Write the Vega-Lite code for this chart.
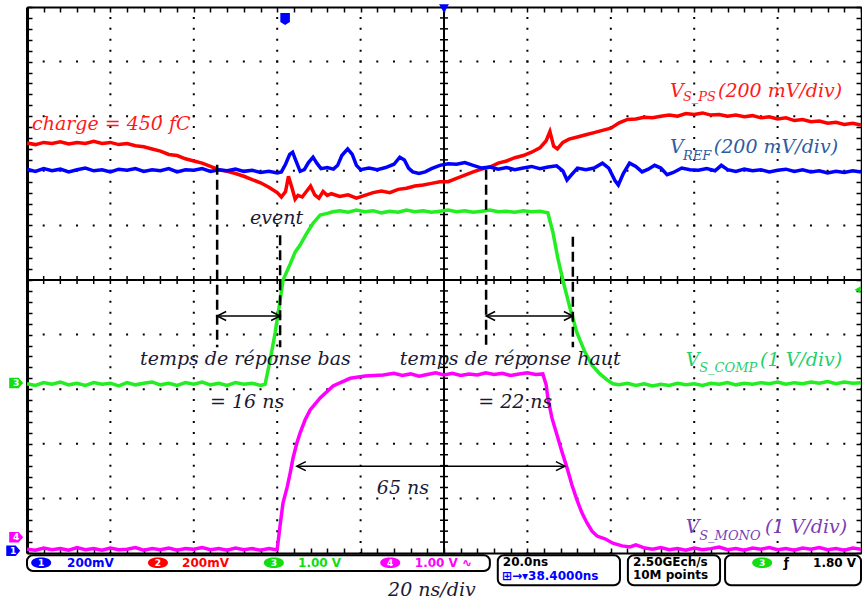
{
"$schema": "https://vega.github.io/schema/vega-lite/v6.json",
"width": 834, "height": 546,
"autosize": {"type": "none"},
"padding": {"left": 27, "top": 7, "right": 1, "bottom": 49},
"background": "white",
"config": {"view": {"stroke": null}},
"resolve": {"axis": {"x": "independent", "y": "independent"}, "scale": {"color": "independent", "shape": "independent"}},
"datasets": {
"gx": [{"t":-80},{"t":-60},{"t":-40},{"t":-20},{"t":20},{"t":40},{"t":60},{"t":80}],
"gy": [{"v":-4},{"v":-3},{"v":-2},{"v":-1},{"v":1},{"v":2},{"v":3},{"v":4}],
"cx": [{"t":-96},{"t":-92},{"t":-88},{"t":-84},{"t":-80},{"t":-76},{"t":-72},{"t":-68},{"t":-64},{"t":-60},{"t":-56},{"t":-52},{"t":-48},{"t":-44},{"t":-40},{"t":-36},{"t":-32},{"t":-28},{"t":-24},{"t":-20},{"t":-16},{"t":-12},{"t":-8},{"t":-4},{"t":4},{"t":8},{"t":12},{"t":16},{"t":20},{"t":24},{"t":28},{"t":32},{"t":36},{"t":40},{"t":44},{"t":48},{"t":52},{"t":56},{"t":60},{"t":64},{"t":68},{"t":72},{"t":76},{"t":80},{"t":84},{"t":88},{"t":92},{"t":96}],
"cy": [{"v":-4.8},{"v":-4.6},{"v":-4.4},{"v":-4.2},{"v":-4},{"v":-3.8},{"v":-3.6},{"v":-3.4},{"v":-3.2},{"v":-3},{"v":-2.8},{"v":-2.6},{"v":-2.4},{"v":-2.2},{"v":-2},{"v":-1.8},{"v":-1.6},{"v":-1.4},{"v":-1.2},{"v":-1},{"v":-0.8},{"v":-0.6},{"v":-0.4},{"v":-0.2},{"v":0.2},{"v":0.4},{"v":0.6},{"v":0.8},{"v":1},{"v":1.2},{"v":1.4},{"v":1.6},{"v":1.8},{"v":2},{"v":2.2},{"v":2.4},{"v":2.6},{"v":2.8},{"v":3},{"v":3.2},{"v":3.4},{"v":3.6},{"v":3.8},{"v":4},{"v":4.2},{"v":4.4},{"v":4.6},{"v":4.8}],
"ref": [{"t":-100,"v":2.03},{"t":-98,"v":1.99},{"t":-96,"v":2.04},{"t":-94,"v":2.00},{"t":-92,"v":2.03},{"t":-90,"v":1.98},{"t":-88,"v":2.02},{"t":-86,"v":2.05},{"t":-84,"v":2.00},{"t":-82,"v":2.02},{"t":-80,"v":1.98},{"t":-78,"v":2.03},{"t":-76,"v":2.01},{"t":-74,"v":2.04},{"t":-72,"v":1.99},{"t":-70,"v":2.02},{"t":-68,"v":2.00},{"t":-66,"v":2.04},{"t":-64,"v":1.98},{"t":-62,"v":2.02},{"t":-60,"v":2.01},{"t":-58,"v":2.04},{"t":-56,"v":1.99},{"t":-54,"v":2.02},{"t":-52,"v":2.00},{"t":-50,"v":2.03},{"t":-48,"v":1.99},{"t":-46,"v":2.01},{"t":-44,"v":1.97},{"t":-42,"v":1.99},{"t":-40,"v":1.96},{"t":-39,"v":1.98},{"t":-38,"v":2.12},{"t":-37,"v":2.30},{"t":-36.3,"v":2.34},{"t":-35.5,"v":2.18},{"t":-34.5,"v":1.99},{"t":-33.5,"v":2.02},{"t":-32.5,"v":2.15},{"t":-31.4,"v":2.25},{"t":-30.5,"v":2.14},{"t":-29.5,"v":2.04},{"t":-28,"v":2.06},{"t":-26.5,"v":2.03},{"t":-25.5,"v":2.10},{"t":-24.5,"v":2.28},{"t":-23.1,"v":2.40},{"t":-22,"v":2.30},{"t":-21,"v":2.10},{"t":-20,"v":2.02},{"t":-18,"v":2.05},{"t":-16,"v":2.02},{"t":-14,"v":2.06},{"t":-12,"v":2.12},{"t":-10.6,"v":2.25},{"t":-9.5,"v":2.20},{"t":-8.5,"v":2.05},{"t":-7.5,"v":1.98},{"t":-6,"v":1.95},{"t":-4.5,"v":1.98},{"t":-3,"v":2.04},{"t":-1,"v":2.10},{"t":1,"v":2.13},{"t":3,"v":2.12},{"t":5,"v":2.15},{"t":7,"v":2.10},{"t":9,"v":2.05},{"t":11,"v":2.07},{"t":13,"v":2.03},{"t":15,"v":2.06},{"t":17,"v":2.02},{"t":19,"v":2.05},{"t":21,"v":2.08},{"t":23,"v":2.04},{"t":25,"v":2.07},{"t":27,"v":2.09},{"t":28.5,"v":2.00},{"t":29.5,"v":1.83},{"t":30.5,"v":1.92},{"t":32,"v":2.05},{"t":34,"v":2.02},{"t":36,"v":2.05},{"t":38,"v":2.14},{"t":39.5,"v":2.05},{"t":41,"v":1.82},{"t":41.8,"v":1.74},{"t":43,"v":1.95},{"t":44.5,"v":2.14},{"t":46,"v":2.08},{"t":47.5,"v":1.98},{"t":49,"v":2.03},{"t":50.5,"v":2.10},{"t":52,"v":2.05},{"t":53.5,"v":1.93},{"t":55,"v":1.97},{"t":57,"v":2.05},{"t":59,"v":2.02},{"t":61,"v":2.01},{"t":63,"v":2.04},{"t":65,"v":2.00},{"t":66.5,"v":2.10},{"t":68,"v":2.02},{"t":70,"v":1.99},{"t":72,"v":2.03},{"t":74,"v":2.00},{"t":76,"v":2.02},{"t":78,"v":1.98},{"t":80,"v":2.01},{"t":82,"v":2.03},{"t":84,"v":1.99},{"t":86,"v":2.02},{"t":88,"v":1.98},{"t":90,"v":2.00},{"t":92,"v":1.96},{"t":94,"v":1.99},{"t":96,"v":1.97},{"t":98,"v":2.00},{"t":100,"v":1.98}],
"ps": [{"t":-100,"v":2.51},{"t":-98,"v":2.48},{"t":-96,"v":2.52},{"t":-94,"v":2.50},{"t":-92,"v":2.53},{"t":-90,"v":2.49},{"t":-88,"v":2.52},{"t":-86,"v":2.50},{"t":-84,"v":2.54},{"t":-82,"v":2.50},{"t":-80,"v":2.52},{"t":-78,"v":2.48},{"t":-76,"v":2.50},{"t":-74,"v":2.46},{"t":-72,"v":2.44},{"t":-70,"v":2.40},{"t":-68,"v":2.36},{"t":-66,"v":2.30},{"t":-64,"v":2.28},{"t":-62,"v":2.22},{"t":-60,"v":2.18},{"t":-58,"v":2.14},{"t":-56,"v":2.08},{"t":-54,"v":2.02},{"t":-52,"v":1.99},{"t":-50,"v":1.95},{"t":-48,"v":1.90},{"t":-46,"v":1.84},{"t":-44,"v":1.78},{"t":-42,"v":1.70},{"t":-40,"v":1.60},{"t":-39,"v":1.52},{"t":-38,"v":1.62},{"t":-37.3,"v":1.90},{"t":-36.5,"v":1.70},{"t":-35.7,"v":1.48},{"t":-35,"v":1.55},{"t":-34,"v":1.52},{"t":-33,"v":1.62},{"t":-32,"v":1.72},{"t":-31,"v":1.56},{"t":-30,"v":1.50},{"t":-29,"v":1.62},{"t":-28,"v":1.55},{"t":-27,"v":1.58},{"t":-25,"v":1.53},{"t":-23,"v":1.56},{"t":-21,"v":1.50},{"t":-19,"v":1.55},{"t":-17,"v":1.60},{"t":-15,"v":1.63},{"t":-13,"v":1.60},{"t":-11,"v":1.66},{"t":-9,"v":1.68},{"t":-7,"v":1.72},{"t":-5,"v":1.74},{"t":-3,"v":1.77},{"t":-1,"v":1.80},{"t":1,"v":1.80},{"t":3,"v":1.86},{"t":5,"v":1.92},{"t":7,"v":1.98},{"t":9,"v":2.03},{"t":11,"v":2.07},{"t":13,"v":2.14},{"t":15,"v":2.18},{"t":17,"v":2.24},{"t":19,"v":2.28},{"t":21,"v":2.34},{"t":23,"v":2.42},{"t":24.5,"v":2.55},{"t":25.4,"v":2.72},{"t":26.3,"v":2.45},{"t":27.2,"v":2.40},{"t":28.5,"v":2.52},{"t":30,"v":2.58},{"t":32,"v":2.62},{"t":34,"v":2.66},{"t":36,"v":2.70},{"t":38,"v":2.74},{"t":40,"v":2.78},{"t":42,"v":2.88},{"t":44,"v":2.94},{"t":46,"v":2.95},{"t":48,"v":2.98},{"t":50,"v":2.97},{"t":52,"v":3.00},{"t":54,"v":3.02},{"t":56,"v":3.00},{"t":58,"v":3.05},{"t":60,"v":3.03},{"t":62,"v":3.06},{"t":64,"v":3.02},{"t":66,"v":3.03},{"t":68,"v":3.00},{"t":70,"v":3.02},{"t":72,"v":2.99},{"t":74,"v":3.01},{"t":76,"v":2.97},{"t":78,"v":2.99},{"t":80,"v":2.95},{"t":82,"v":2.97},{"t":84,"v":2.92},{"t":86,"v":2.94},{"t":88,"v":2.90},{"t":90,"v":2.91},{"t":92,"v":2.87},{"t":94,"v":2.89},{"t":96,"v":2.85},{"t":98,"v":2.87},{"t":100,"v":2.84}],
"comp": [{"t":-100,"v":-1.90},{"t":-98,"v":-1.93},{"t":-96,"v":-1.88},{"t":-94,"v":-1.91},{"t":-92,"v":-1.87},{"t":-90,"v":-1.92},{"t":-88,"v":-1.89},{"t":-86,"v":-1.93},{"t":-84,"v":-1.88},{"t":-82,"v":-1.91},{"t":-80,"v":-1.89},{"t":-78,"v":-1.94},{"t":-76,"v":-1.88},{"t":-74,"v":-1.92},{"t":-72,"v":-1.89},{"t":-70,"v":-1.87},{"t":-68,"v":-1.92},{"t":-66,"v":-1.89},{"t":-64,"v":-1.93},{"t":-62,"v":-1.88},{"t":-60,"v":-1.91},{"t":-58,"v":-1.87},{"t":-56,"v":-1.92},{"t":-54,"v":-1.89},{"t":-52,"v":-1.93},{"t":-50,"v":-1.88},{"t":-48,"v":-1.91},{"t":-46,"v":-1.89},{"t":-44,"v":-1.93},{"t":-42.9,"v":-1.91},{"t":-41.7,"v":-1.47},{"t":-40.5,"v":-0.97},{"t":-39.3,"v":-0.37},{"t":-38.6,"v":0.0},{"t":-36.9,"v":0.29},{"t":-35.7,"v":0.51},{"t":-34.5,"v":0.64},{"t":-32.9,"v":0.86},{"t":-31.4,"v":1.04},{"t":-29.7,"v":1.19},{"t":-28,"v":1.22},{"t":-26.6,"v":1.25},{"t":-25,"v":1.27},{"t":-23,"v":1.24},{"t":-21,"v":1.28},{"t":-19,"v":1.25},{"t":-17,"v":1.27},{"t":-15,"v":1.23},{"t":-13,"v":1.26},{"t":-11,"v":1.24},{"t":-9,"v":1.28},{"t":-7,"v":1.25},{"t":-5,"v":1.27},{"t":-3,"v":1.24},{"t":-1,"v":1.26},{"t":1,"v":1.28},{"t":3,"v":1.25},{"t":5,"v":1.27},{"t":7,"v":1.24},{"t":9,"v":1.26},{"t":11,"v":1.28},{"t":13,"v":1.25},{"t":15,"v":1.26},{"t":17,"v":1.24},{"t":19,"v":1.27},{"t":21,"v":1.25},{"t":23,"v":1.26},{"t":24.9,"v":1.23},{"t":26.1,"v":0.88},{"t":27.3,"v":0.40},{"t":28.5,"v":0.0},{"t":30.2,"v":-0.51},{"t":31.9,"v":-0.97},{"t":33.8,"v":-1.32},{"t":35.5,"v":-1.56},{"t":37.4,"v":-1.72},{"t":39.1,"v":-1.83},{"t":40.5,"v":-1.90},{"t":42,"v":-1.92},{"t":44,"v":-1.89},{"t":46,"v":-1.93},{"t":48,"v":-1.90},{"t":50,"v":-1.94},{"t":52,"v":-1.91},{"t":54,"v":-1.93},{"t":56,"v":-1.89},{"t":58,"v":-1.92},{"t":60,"v":-1.90},{"t":62,"v":-1.93},{"t":64,"v":-1.89},{"t":66,"v":-1.91},{"t":68,"v":-1.88},{"t":70,"v":-1.92},{"t":72,"v":-1.89},{"t":74,"v":-1.91},{"t":76,"v":-1.88},{"t":78,"v":-1.90},{"t":80,"v":-1.87},{"t":82,"v":-1.91},{"t":84,"v":-1.88},{"t":86,"v":-1.90},{"t":88,"v":-1.87},{"t":90,"v":-1.89},{"t":92,"v":-1.86},{"t":94,"v":-1.90},{"t":96,"v":-1.87},{"t":98,"v":-1.89},{"t":100,"v":-1.88}],
"mono": [{"t":-100,"v":-4.93},{"t":-98,"v":-4.95},{"t":-96,"v":-4.91},{"t":-94,"v":-4.94},{"t":-92,"v":-4.92},{"t":-90,"v":-4.95},{"t":-88,"v":-4.90},{"t":-86,"v":-4.94},{"t":-84,"v":-4.92},{"t":-82,"v":-4.95},{"t":-80,"v":-4.91},{"t":-78,"v":-4.94},{"t":-76,"v":-4.93},{"t":-74,"v":-4.90},{"t":-72,"v":-4.95},{"t":-70,"v":-4.92},{"t":-68,"v":-4.94},{"t":-66,"v":-4.91},{"t":-64,"v":-4.95},{"t":-62,"v":-4.92},{"t":-60,"v":-4.93},{"t":-58,"v":-4.90},{"t":-56,"v":-4.94},{"t":-54,"v":-4.92},{"t":-52,"v":-4.95},{"t":-50,"v":-4.91},{"t":-48,"v":-4.94},{"t":-46,"v":-4.92},{"t":-44,"v":-4.95},{"t":-42,"v":-4.92},{"t":-40.3,"v":-4.94},{"t":-40,"v":-4.93},{"t":-39.3,"v":-4.49},{"t":-38.6,"v":-4.08},{"t":-37.6,"v":-3.79},{"t":-36.9,"v":-3.54},{"t":-36.2,"v":-3.26},{"t":-35.3,"v":-2.99},{"t":-34.5,"v":-2.80},{"t":-33.3,"v":-2.56},{"t":-32.1,"v":-2.38},{"t":-29.7,"v":-2.16},{"t":-26.6,"v":-1.94},{"t":-22.5,"v":-1.80},{"t":-18.9,"v":-1.76},{"t":-14.6,"v":-1.74},{"t":-12,"v":-1.71},{"t":-10,"v":-1.75},{"t":-8,"v":-1.72},{"t":-6,"v":-1.76},{"t":-4,"v":-1.73},{"t":-2,"v":-1.70},{"t":0,"v":-1.74},{"t":2,"v":-1.71},{"t":4,"v":-1.75},{"t":6,"v":-1.72},{"t":8,"v":-1.74},{"t":10,"v":-1.70},{"t":12,"v":-1.73},{"t":14,"v":-1.71},{"t":16,"v":-1.75},{"t":18,"v":-1.72},{"t":20,"v":-1.70},{"t":22,"v":-1.73},{"t":23.7,"v":-1.72},{"t":24.5,"v":-1.92},{"t":24.9,"v":-2.16},{"t":25.9,"v":-2.53},{"t":27.1,"v":-2.84},{"t":28.3,"v":-3.15},{"t":29.5,"v":-3.44},{"t":30.7,"v":-3.76},{"t":31.9,"v":-4.03},{"t":33.1,"v":-4.27},{"t":34.3,"v":-4.45},{"t":35.5,"v":-4.60},{"t":36.7,"v":-4.69},{"t":38.6,"v":-4.74},{"t":40.5,"v":-4.82},{"t":42.7,"v":-4.87},{"t":44.6,"v":-4.89},{"t":46,"v":-4.85},{"t":48.2,"v":-4.91},{"t":50,"v":-4.93},{"t":52,"v":-4.90},{"t":54,"v":-4.94},{"t":56,"v":-4.92},{"t":58,"v":-4.95},{"t":60,"v":-4.91},{"t":62,"v":-4.94},{"t":64,"v":-4.92},{"t":66,"v":-4.89},{"t":68,"v":-4.94},{"t":70,"v":-4.92},{"t":72,"v":-4.95},{"t":74,"v":-4.91},{"t":76,"v":-4.93},{"t":78,"v":-4.90},{"t":80,"v":-4.94},{"t":82,"v":-4.92},{"t":84,"v":-4.95},{"t":86,"v":-4.91},{"t":88,"v":-4.93},{"t":90,"v":-4.90},{"t":92,"v":-4.94},{"t":94,"v":-4.92},{"t":96,"v":-4.95},{"t":98,"v":-4.91},{"t":100,"v":-4.93}],
"dash": [{"t":-54.4,"v0":2.11,"v1":-1.23},{"t":-39.3,"v0":0.82,"v1":-1.23},{"t":10.1,"v0":2.02,"v1":-1.23},{"t":30.9,"v0":0.79,"v1":-1.23}],
"arr": [{"t0":-54.4,"t1":-39.3,"v":-0.66},{"t0":10.1,"t1":30.9,"v":-0.66},{"t0":-35.3,"t1":29.0,"v":-3.41}],
"ah": [{"t":-54.4,"v":-0.66,"d":"L"},{"t":-39.3,"v":-0.66,"d":"R"},{"t":10.1,"v":-0.66,"d":"L"},{"t":30.9,"v":-0.66,"d":"R"},{"t":-35.3,"v":-3.41,"d":"L"},{"t":29.0,"v":-3.41,"d":"R"}],
"ann": [{"t":-46.5,"v":1.03,"s":"event"},{"t":-72.9,"v":-1.56,"s":"temps de réponse bas"},{"t":-56.1,"v":-2.34,"s":"= 16 ns"},{"t":-10.6,"v":-1.56,"s":"temps de réponse haut"},{"t":8.2,"v":-2.34,"s":"= 22 ns"},{"t":-16.1,"v":-3.92,"s":"65 ns"},{"t":-13.4,"v":-5.79,"s":"20 ns/div"}],
"lab": [{"t":-98.8,"v":2.75,"s":"charge = 450 fC","ch":"ps"},{"t":54.2,"v":3.35,"s":"V","ch":"ps"},{"t":65.7,"v":3.35,"s":"(200 mV/div)","ch":"ps"},{"t":54.2,"v":2.33,"s":"V","ch":"ref"},{"t":64.7,"v":2.33,"s":"(200 mV/div)","ch":"ref"},{"t":58.0,"v":-1.575,"s":"V","ch":"comp"},{"t":75.8,"v":-1.575,"s":"(1 V/div)","ch":"comp"},{"t":58.0,"v":-4.634,"s":"V","ch":"mono"},{"t":77.0,"v":-4.634,"s":"(1 V/div)","ch":"mono"}],
"sub": [{"t":57.3,"v":3.27,"s":"S_PS","ch":"ps"},{"t":57.3,"v":2.20,"s":"REF","ch":"ref"},{"t":61.2,"v":-1.685,"s":"S_COMP","ch":"comp"},{"t":61.2,"v":-4.762,"s":"S_MONO","ch":"mono"}],
"box": [{"t0":-100,"t1":11.0,"v0":-5.04,"v1":-5.33},{"t0":12.9,"t1":42.2,"v0":-5.04,"v1":-5.59},{"t0":44.1,"t1":66.2,"v0":-5.04,"v1":-5.59},{"t0":67.4,"t1":100,"v0":-5.04,"v1":-5.59}],
"st": [{"t":-90.4,"v":-5.18,"s":"200mV","ch":"ref"},{"t":-62.8,"v":-5.18,"s":"200mV","ch":"ps"},{"t":-35.0,"v":-5.18,"s":"1.00 V","ch":"comp"},{"t":-7.0,"v":-5.18,"s":"1.00 V ∿","ch":"mono"},{"t":14.1,"v":-5.17,"s":"20.0ns","ch":"k"},{"t":13.9,"v":-5.42,"s":"⊞→▾38.4000ns","ch":"ref"},{"t":45.3,"v":-5.17,"s":"2.50GEch/s","ch":"k"},{"t":45.3,"v":-5.41,"s":"10M points","ch":"k"},{"t":81.5,"v":-5.18,"s":"ƒ","ch":"k"},{"t":88.5,"v":-5.18,"s":"1.80 V","ch":"k"}],
"ic": [{"t":-96.6,"v":-5.18,"n":"1","ch":"ref"},{"t":-68.6,"v":-5.18,"n":"2","ch":"ps"},{"t":-40.8,"v":-5.18,"n":"3","ch":"comp"},{"t":-12.9,"v":-5.18,"n":"4","ch":"mono"},{"t":76.3,"v":-5.18,"n":"3","ch":"comp"}],
"lm": [{"t":-102.6,"v":-1.886,"n":"3","ch":"comp"},{"t":-102.6,"v":-4.71,"n":"4","ch":"mono"},{"t":-103.3,"v":-4.96,"n":"1","ch":"ref"}],
"mk": [{"t":-38.1,"v":4.78,"k":"shield"},{"t":0,"v":4.97,"k":"tri"},{"t":99.2,"v":-0.18,"k":"lt"}]
},
"layer": [
{"data": {"name": "gx"}, "mark": {"type": "rule", "color": "#000", "strokeWidth": 2, "strokeDash": [2, 8.92], "strokeDashOffset": 1},
 "encoding": {"x": {"field": "t", "type": "quantitative", "scale": {"domain": [-100, 100], "nice": false, "zero": false}, "axis": null}}},
{"data": {"name": "gy"}, "mark": {"type": "rule", "color": "#000", "strokeWidth": 2, "strokeDash": [2, 14.68], "strokeDashOffset": 1},
 "encoding": {"y": {"field": "v", "type": "quantitative", "scale": {"domain": [-5, 5], "nice": false, "zero": false}, "axis": null}}},
{"data": {"values": [{"t": 0}]}, "mark": {"type": "rule", "color": "#000", "strokeWidth": 2},
 "encoding": {"x": {"field": "t", "type": "quantitative", "scale": {"domain": [-100, 100], "nice": false, "zero": false}, "axis": null}}},
{"data": {"values": [{"v": 0}]}, "mark": {"type": "rule", "color": "#000", "strokeWidth": 2},
 "encoding": {"y": {"field": "v", "type": "quantitative", "scale": {"domain": [-5, 5], "nice": false, "zero": false}, "axis": null}}},
{"data": {"name": "cx"}, "mark": {"type": "tick", "orient": "vertical", "color": "#000", "size": 8, "thickness": 1.5, "opacity": 1},
 "encoding": {"x": {"field": "t", "type": "quantitative", "scale": {"domain": [-100, 100], "nice": false, "zero": false}, "axis": null},
  "y": {"datum": 0, "type": "quantitative", "scale": {"domain": [-5, 5], "nice": false, "zero": false}, "axis": null}}},
{"data": {"name": "cy"}, "mark": {"type": "tick", "orient": "horizontal", "color": "#000", "size": 8, "thickness": 1.5, "opacity": 1},
 "encoding": {"y": {"field": "v", "type": "quantitative", "scale": {"domain": [-5, 5], "nice": false, "zero": false}, "axis": null},
  "x": {"datum": 0, "type": "quantitative", "scale": {"domain": [-100, 100], "nice": false, "zero": false}, "axis": null}}},
{"data": {"name": "comp"}, "mark": {"type": "line", "color": "#22ee22", "strokeWidth": 3.5},
 "encoding": {"x": {"field": "t", "type": "quantitative", "scale": {"domain": [-100, 100], "nice": false, "zero": false},
   "axis": {"orient": "bottom", "labels": false, "title": null, "grid": false, "domain": true, "domainColor": "#000", "domainWidth": 2, "ticks": true, "tickColor": "#000", "tickWidth": 1.5, "tickSize": -5,
   "values": [-100,-96,-92,-88,-84,-80,-76,-72,-68,-64,-60,-56,-52,-48,-44,-40,-36,-32,-28,-24,-20,-16,-12,-8,-4,0,4,8,12,16,20,24,28,32,36,40,44,48,52,56,60,64,68,72,76,80,84,88,92,96,100]}},
  "y": {"field": "v", "type": "quantitative", "scale": {"domain": [-5, 5], "nice": false, "zero": false},
   "axis": {"orient": "left", "labels": false, "title": null, "grid": false, "domain": true, "domainColor": "#000", "domainWidth": 3, "ticks": true, "tickColor": "#000", "tickWidth": 1.5, "tickSize": -5,
   "values": [-5,-4.8,-4.6,-4.4,-4.2,-4,-3.8,-3.6,-3.4,-3.2,-3,-2.8,-2.6,-2.4,-2.2,-2,-1.8,-1.6,-1.4,-1.2,-1,-0.8,-0.6,-0.4,-0.2,0,0.2,0.4,0.6,0.8,1,1.2,1.4,1.6,1.8,2,2.2,2.4,2.6,2.8,3,3.2,3.4,3.6,3.8,4,4.2,4.4,4.6,4.8,5]}}}},
{"data": {"name": "mono"}, "mark": {"type": "line", "color": "#ff00ff", "strokeWidth": 3.5},
 "encoding": {"x": {"field": "t", "type": "quantitative", "scale": {"domain": [-100, 100], "nice": false, "zero": false}, "axis": null},
  "y": {"field": "v", "type": "quantitative", "scale": {"domain": [-5, 5], "nice": false, "zero": false}, "axis": null}}},
{"data": {"name": "ps"}, "mark": {"type": "line", "color": "#ff0000", "strokeWidth": 3.5},
 "encoding": {"x": {"field": "t", "type": "quantitative", "scale": {"domain": [-100, 100], "nice": false, "zero": false}, "axis": null},
  "y": {"field": "v", "type": "quantitative", "scale": {"domain": [-5, 5], "nice": false, "zero": false}, "axis": null}}},
{"data": {"name": "ref"}, "mark": {"type": "line", "color": "#0000ff", "strokeWidth": 3.5},
 "encoding": {"x": {"field": "t", "type": "quantitative", "scale": {"domain": [-100, 100], "nice": false, "zero": false}, "axis": null},
  "y": {"field": "v", "type": "quantitative", "scale": {"domain": [-5, 5], "nice": false, "zero": false}, "axis": null}}},
{"data": {"name": "dash"}, "mark": {"type": "rule", "color": "#000", "strokeWidth": 2.5, "strokeDash": [10, 5]},
 "encoding": {"x": {"field": "t", "type": "quantitative", "scale": {"domain": [-100, 100], "nice": false, "zero": false},
   "axis": {"orient": "top", "labels": false, "title": null, "grid": false, "domain": true, "domainColor": "#000", "domainWidth": 2, "ticks": true, "tickColor": "#000", "tickWidth": 1.5, "tickSize": -5,
   "values": [-100,-96,-92,-88,-84,-80,-76,-72,-68,-64,-60,-56,-52,-48,-44,-40,-36,-32,-28,-24,-20,-16,-12,-8,-4,0,4,8,12,16,20,24,28,32,36,40,44,48,52,56,60,64,68,72,76,80,84,88,92,96,100]}},
  "y": {"field": "v0", "type": "quantitative", "scale": {"domain": [-5, 5], "nice": false, "zero": false},
   "axis": {"orient": "right", "labels": false, "title": null, "grid": false, "domain": true, "domainColor": "#000", "domainWidth": 1.5, "ticks": true, "tickColor": "#000", "tickWidth": 1.5, "tickSize": -5,
   "values": [-5,-4.8,-4.6,-4.4,-4.2,-4,-3.8,-3.6,-3.4,-3.2,-3,-2.8,-2.6,-2.4,-2.2,-2,-1.8,-1.6,-1.4,-1.2,-1,-0.8,-0.6,-0.4,-0.2,0,0.2,0.4,0.6,0.8,1,1.2,1.4,1.6,1.8,2,2.2,2.4,2.6,2.8,3,3.2,3.4,3.6,3.8,4,4.2,4.4,4.6,4.8,5]}},
  "y2": {"field": "v1"}}},
{"data": {"name": "arr"}, "mark": {"type": "rule", "color": "#000", "strokeWidth": 1.5},
 "encoding": {"x": {"field": "t0", "type": "quantitative", "scale": {"domain": [-100, 100], "nice": false, "zero": false}, "axis": null}, "x2": {"field": "t1"},
  "y": {"field": "v", "type": "quantitative", "scale": {"domain": [-5, 5], "nice": false, "zero": false}, "axis": null}}},
{"data": {"name": "ah"}, "mark": {"type": "point", "filled": false, "color": "#000", "strokeWidth": 1.5, "size": 324, "opacity": 1},
 "encoding": {"x": {"field": "t", "type": "quantitative", "scale": {"domain": [-100, 100], "nice": false, "zero": false}, "axis": null},
  "y": {"field": "v", "type": "quantitative", "scale": {"domain": [-5, 5], "nice": false, "zero": false}, "axis": null},
  "shape": {"field": "d", "type": "nominal", "scale": {"domain": ["L", "R"], "range": ["M 1 -0.5 L 0 0 L 1 0.5", "M -1 -0.5 L 0 0 L -1 0.5"]}, "legend": null}}},
{"data": {"name": "ann"}, "mark": {"type": "text", "font": "DejaVu Serif", "fontStyle": "italic", "fontSize": 19, "color": "#1a1a33", "align": "left", "baseline": "alphabetic"},
 "encoding": {"x": {"field": "t", "type": "quantitative", "scale": {"domain": [-100, 100], "nice": false, "zero": false}, "axis": null},
  "y": {"field": "v", "type": "quantitative", "scale": {"domain": [-5, 5], "nice": false, "zero": false}, "axis": null}, "text": {"field": "s"}}},
{"data": {"name": "lab"}, "mark": {"type": "text", "font": "DejaVu Serif", "fontStyle": "italic", "fontSize": 19, "align": "left", "baseline": "alphabetic"},
 "encoding": {"x": {"field": "t", "type": "quantitative", "scale": {"domain": [-100, 100], "nice": false, "zero": false}, "axis": null},
  "y": {"field": "v", "type": "quantitative", "scale": {"domain": [-5, 5], "nice": false, "zero": false}, "axis": null}, "text": {"field": "s"},
  "color": {"field": "ch", "type": "nominal", "scale": {"domain": ["ps", "ref", "comp", "mono"], "range": ["#ff1a1a", "#2e5c9e", "#1fcf6a", "#7a3db8"]}, "legend": null}}},
{"data": {"name": "sub"}, "mark": {"type": "text", "font": "DejaVu Serif", "fontStyle": "italic", "fontSize": 13, "align": "left", "baseline": "alphabetic"},
 "encoding": {"x": {"field": "t", "type": "quantitative", "scale": {"domain": [-100, 100], "nice": false, "zero": false}, "axis": null},
  "y": {"field": "v", "type": "quantitative", "scale": {"domain": [-5, 5], "nice": false, "zero": false}, "axis": null}, "text": {"field": "s"},
  "color": {"field": "ch", "type": "nominal", "scale": {"domain": ["ps", "ref", "comp", "mono"], "range": ["#ff1a1a", "#2e5c9e", "#1fcf6a", "#7a3db8"]}, "legend": null}}},
{"data": {"name": "box"}, "mark": {"type": "rect", "fill": "white", "stroke": "#000", "strokeWidth": 2, "cornerRadius": 6},
 "encoding": {"x": {"field": "t0", "type": "quantitative", "scale": {"domain": [-100, 100], "nice": false, "zero": false}, "axis": null}, "x2": {"field": "t1"},
  "y": {"field": "v0", "type": "quantitative", "scale": {"domain": [-5, 5], "nice": false, "zero": false}, "axis": null}, "y2": {"field": "v1"}}},
{"data": {"name": "st"}, "mark": {"type": "text", "font": "DejaVu Sans", "fontWeight": "bold", "fontSize": 12, "align": "left", "baseline": "middle"},
 "encoding": {"x": {"field": "t", "type": "quantitative", "scale": {"domain": [-100, 100], "nice": false, "zero": false}, "axis": null},
  "y": {"field": "v", "type": "quantitative", "scale": {"domain": [-5, 5], "nice": false, "zero": false}, "axis": null}, "text": {"field": "s"},
  "color": {"field": "ch", "type": "nominal", "scale": {"domain": ["ps", "ref", "comp", "mono", "k"], "range": ["#ff0000", "#0000ff", "#11dd11", "#ff00ff", "#000000"]}, "legend": null}}},
{"data": {"name": "ic"}, "mark": {"type": "point", "filled": true, "size": 400, "opacity": 1, "shape": "M -1 0 C -1 -0.7 1 -0.7 1 0 C 1 0.7 -1 0.7 -1 0 Z"},
 "encoding": {"x": {"field": "t", "type": "quantitative", "scale": {"domain": [-100, 100], "nice": false, "zero": false}, "axis": null},
  "y": {"field": "v", "type": "quantitative", "scale": {"domain": [-5, 5], "nice": false, "zero": false}, "axis": null},
  "color": {"field": "ch", "type": "nominal", "scale": {"domain": ["ps", "ref", "comp", "mono"], "range": ["#ff0000", "#0000ff", "#11dd11", "#ff00ff"]}, "legend": null}}},
{"data": {"name": "ic"}, "mark": {"type": "text", "font": "DejaVu Sans", "fontWeight": "bold", "fontSize": 9, "color": "white", "align": "center", "baseline": "middle"},
 "encoding": {"x": {"field": "t", "type": "quantitative", "scale": {"domain": [-100, 100], "nice": false, "zero": false}, "axis": null},
  "y": {"field": "v", "type": "quantitative", "scale": {"domain": [-5, 5], "nice": false, "zero": false}, "axis": null}, "text": {"field": "n"}}},
{"data": {"name": "lm"}, "mark": {"type": "point", "filled": true, "size": 196, "opacity": 1, "shape": "M -1 -0.75 L 0.35 -0.75 L 1 0 L 0.35 0.75 L -1 0.75 Z"},
 "encoding": {"x": {"field": "t", "type": "quantitative", "scale": {"domain": [-100, 100], "nice": false, "zero": false}, "axis": null},
  "y": {"field": "v", "type": "quantitative", "scale": {"domain": [-5, 5], "nice": false, "zero": false}, "axis": null},
  "color": {"field": "ch", "type": "nominal", "scale": {"domain": ["ref", "comp", "mono"], "range": ["#0000ff", "#11dd11", "#ff00ff"]}, "legend": null}}},
{"data": {"name": "lm"}, "mark": {"type": "text", "font": "DejaVu Sans", "fontWeight": "bold", "fontSize": 9, "color": "white", "align": "center", "baseline": "middle"},
 "encoding": {"x": {"field": "t", "type": "quantitative", "scale": {"domain": [-100, 100], "nice": false, "zero": false}, "axis": null},
  "y": {"field": "v", "type": "quantitative", "scale": {"domain": [-5, 5], "nice": false, "zero": false}, "axis": null}, "text": {"field": "n"}}},
{"data": {"name": "mk"}, "mark": {"type": "point", "filled": true, "opacity": 1},
 "encoding": {"x": {"field": "t", "type": "quantitative", "scale": {"domain": [-100, 100], "nice": false, "zero": false}, "axis": null},
  "y": {"field": "v", "type": "quantitative", "scale": {"domain": [-5, 5], "nice": false, "zero": false}, "axis": null},
  "shape": {"field": "k", "type": "nominal", "scale": {"domain": ["shield", "tri", "lt"], "range": ["M -0.8 -1 L 0.8 -1 L 0.8 0.5 L 0 1 L -0.8 0.5 Z", "triangle-down", "triangle-left"]}, "legend": null},
  "size": {"field": "k", "type": "nominal", "scale": {"domain": ["shield", "tri", "lt"], "range": [144, 50, 70]}, "legend": null},
  "color": {"field": "k", "type": "nominal", "scale": {"domain": ["shield", "tri", "lt"], "range": ["#0000ff", "#0000ff", "#11dd11"]}, "legend": null}}}
]
}
